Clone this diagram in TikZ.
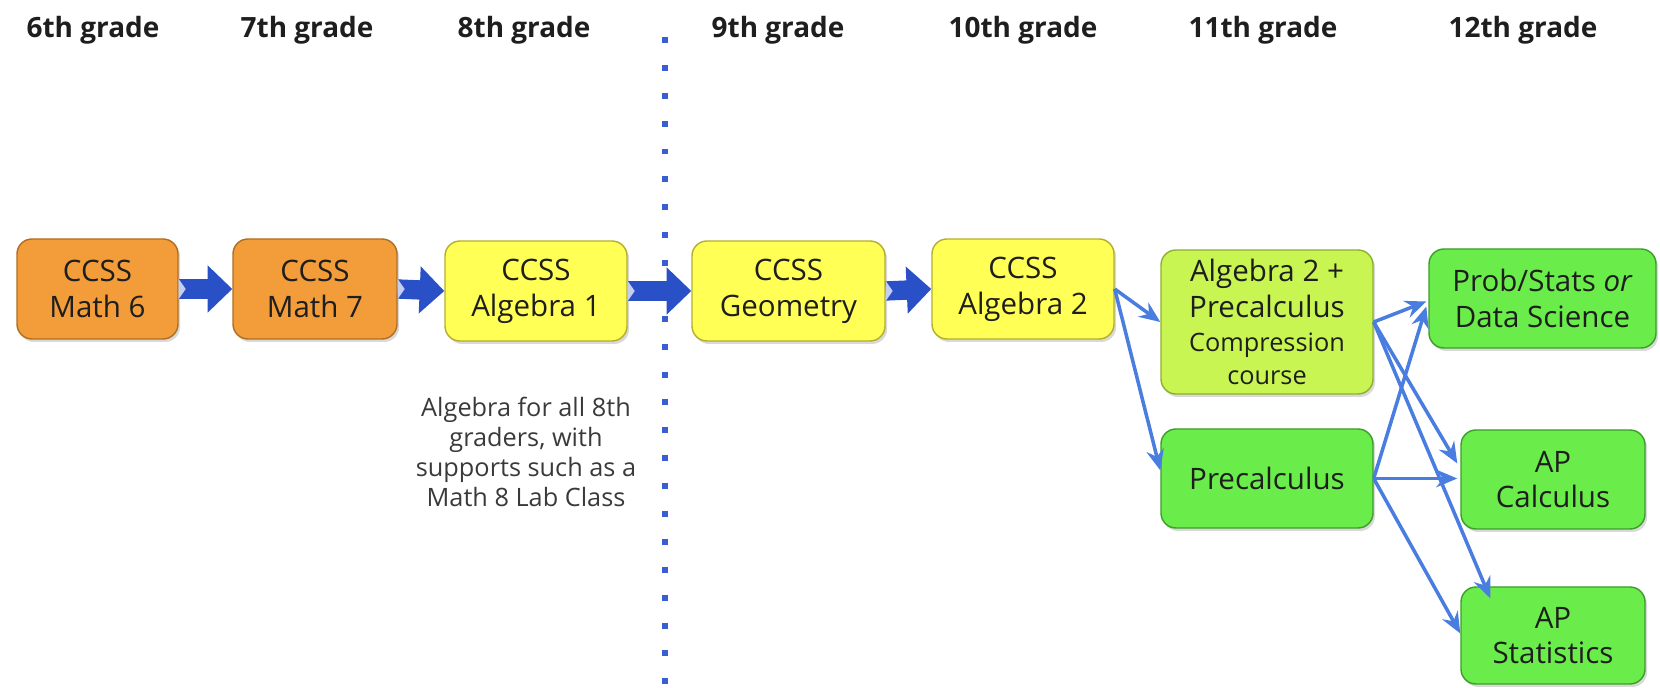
\documentclass[tikz,border=0pt]{standalone}
\usepackage{fontspec}
\setmainfont{Open Sans}
\usetikzlibrary{arrows.meta,shadows,calc}
\definecolor{orangebox}{HTML}{F29C3A}
\definecolor{orangeedge}{HTML}{B06E22}
\definecolor{yellowbox}{HTML}{FFFF55}
\definecolor{yellowedge}{HTML}{B5AE2A}
\definecolor{limebox}{HTML}{C8F551}
\definecolor{limeedge}{HTML}{8DB030}
\definecolor{greenbox}{HTML}{6AEC4A}
\definecolor{greenedge}{HTML}{3A9E28}
\definecolor{bigblue}{HTML}{2A50C8}
\definecolor{thinblue}{HTML}{4A7DE0}
\definecolor{dotblue}{HTML}{3A5ED0}
\definecolor{txt}{HTML}{1E1E1E}
\definecolor{notetxt}{HTML}{3A3A3A}
\begin{document}
\begin{tikzpicture}[x=0.02cm,y=-0.02cm,
  box/.style={draw, line width=0.8pt, rounded corners=8.5pt, inner sep=0pt,
    align=center, text=txt, font=\fontsize{16.8}{20.4}\selectfont,
    drop shadow={shadow xshift=1.2pt, shadow yshift=-1.7pt, opacity=0.3}},
  boxsize/.style 2 args={minimum width=#1*0.02cm, minimum height=#2*0.02cm},
  orangenode/.style={box, fill=orangebox, draw=orangeedge},
  yellownode/.style={box, fill=yellowbox, draw=yellowedge},
  limenode/.style={box, fill=limebox, draw=limeedge},
  greennode/.style={box, fill=greenbox, draw=greenedge},
  hdr/.style={font=\bfseries\fontsize{15.9}{19}\selectfont, text=txt, anchor=base, inner sep=0pt},
  bigarrow/.style={line width=11pt, draw=bigblue, -{Triangle[length=14pt,width=26pt]}},
  smallarrow/.style={line width=2pt, draw=thinblue, -{Stealth[length=12pt,width=10pt,inset=4pt]}},
  notch/.style={fill=white!72!bigblue, draw=none}
]
\useasboundingbox (0,0) rectangle (1660,688);

% headers
\node[hdr] (h6) at (93,38) {6th grade};
\node[hdr] (h7) at (307,38) {7th grade};
\node[hdr] (h8) at (524,38) {8th grade};
\node[hdr] (h9) at (778,38) {9th grade};
\node[hdr] (h10) at (1023,38) {10th grade};
\node[hdr] (h11) at (1263,38) {11th grade};
\node[hdr] (h12) at (1523,38) {12th grade};

% dotted separator
\draw[dotblue, line width=3.4pt, dash pattern=on 3.4pt off 12.47pt] (665,37) -- (665,688);

% boxes
\node[orangenode, boxsize={161}{100}] (m6) at (97.5,289) {CCSS\\Math 6};
\node[orangenode, boxsize={164}{100}] (m7) at (315,289) {CCSS\\Math 7};
\node[yellownode, boxsize={182}{100}] (a1) at (536,291) {CCSS\\Algebra 1};
\node[yellownode, boxsize={193}{100}] (geo) at (788.5,291) {CCSS\\Geometry};
\node[yellownode, boxsize={182}{100}] (a2) at (1023,289) {CCSS\\Algebra 2};
\node[limenode, boxsize={212}{144}] (apc) at (1267,322) {Algebra 2 +\\Precalculus\\[-1pt]{\fontsize{14.4}{17.5}\selectfont Compression}\\[-2pt]{\fontsize{14.4}{17.5}\selectfont course}};
\node[greennode, boxsize={212}{99}] (pre) at (1267,478.5) {Precalculus};
\node[greennode, boxsize={227}{99}] (ps) at (1542.5,298.5) {Prob/Stats \textit{or}\\Data Science};
\node[greennode, boxsize={184}{99}] (apcalc) at (1553,479.5) {AP\\Calculus};
\node[greennode, boxsize={184}{97}] (apstat) at (1553,635.5) {AP\\Statistics};

% note
\node[font=\fontsize{14.4}{17}\selectfont, text=notetxt, align=center, inner sep=0pt] (note) at (526,452)
  {Algebra for all 8th\\graders, with\\supports such as a\\Math 8 Lab Class};

% thick arrows
\draw[bigarrow] (m6.east) -- (m7.west);
\draw[bigarrow] (m7.east) -- (a1.west);
\draw[bigarrow] (a1.east) -- (geo.west);
\draw[bigarrow] (geo.east) -- (a2.west);
\foreach \n in {m6,m7,a1,geo}{
  \fill[notch] ($(\n.east)+(0,-10)$) -- ($(\n.east)+(7,0)$) -- ($(\n.east)+(0,10)$) -- cycle;
}

% thin arrows
\draw[smallarrow] (a2.east) -- (apc.west);
\draw[smallarrow] (a2.east) -- ($(pre.west)+(0,-8)$);
\draw[smallarrow] (apc.east) -- ($(ps.west)+(-2,3)$);
\draw[smallarrow] (pre.east) -- ($(ps.west)+(-2,8)$);
\draw[smallarrow] (apc.east) -- ($(apcalc.west)+(-3,-16)$);
\draw[smallarrow] (pre.east) -- ($(apcalc.west)+(-3,-1)$);
\draw[smallarrow] (apc.east) -- ($(apstat.north west)+(30,12)$);
\draw[smallarrow] (pre.east) -- ($(apstat.west)+(0,-2)$);
\end{tikzpicture}
\end{document}
